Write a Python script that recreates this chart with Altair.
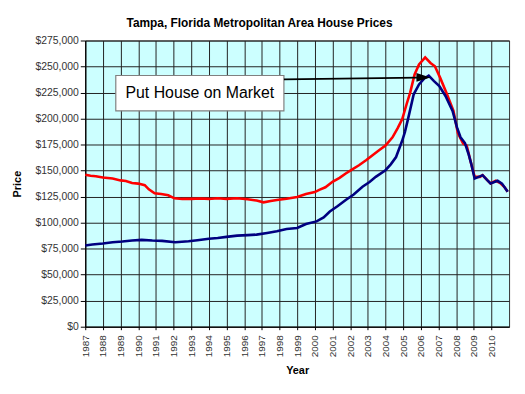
import altair as alt
import pandas as pd

# ---- data ----
red_years = [1987.0, 1987.3, 1987.6, 1988.0, 1988.55, 1989.0, 1989.3, 1989.65, 1990.0, 1990.37,
             1990.6, 1990.93, 1991.3, 1991.7, 1992.05, 1992.5, 1993.0, 1993.5, 1994.0, 1994.5,
             1995.0, 1995.6, 1996.2, 1996.7, 1997.1, 1997.5, 1997.85, 1998.4, 1999.0, 1999.5,
             2000.0, 2000.25, 2000.6, 2001.0, 2001.4, 2001.75, 2002.1, 2002.5, 2002.9, 2003.25,
             2003.6, 2004.0, 2004.4, 2004.7, 2004.95, 2005.2, 2005.4, 2005.65, 2005.9, 2006.25,
             2006.55, 2006.8, 2007.1, 2007.45, 2007.85, 2008.1, 2008.4, 2008.6, 2008.85, 2009.05,
             2009.35, 2009.5, 2009.75, 2009.95, 2010.25, 2010.5, 2010.75, 2010.92]
red_prices = [146000, 145000, 144600, 143400, 142400, 140600, 140000, 138000, 137500, 136000,
              132000, 128200, 127500, 126300, 123400, 122800, 122800, 123200, 122800, 123400,
              122800, 123400, 122500, 121200, 119500, 120800, 121800, 123000, 124600, 127500,
              129400, 131500, 134000, 139200, 143000, 147200, 151000, 155100, 160000, 164600,
              169000, 174100, 182000, 191000, 199500, 214000, 225000, 242400, 252000, 258800,
              253400, 250300, 239100, 224900, 207400, 186000, 176000, 174000, 157000, 144000,
              144000, 145600, 141000, 137700, 140200, 138000, 134000, 129700]

blue_years = [1987.0, 1987.4, 1988.0, 1988.55, 1989.1, 1989.65, 1990.2, 1990.8, 1991.35, 1992.1,
              1992.85, 1993.35, 1994.0, 1994.5, 1995.0, 1995.6, 1996.2, 1996.7, 1997.3, 1997.85,
              1998.4, 1999.0, 1999.5, 2000.1, 2000.5, 2000.85, 2001.3, 2001.75, 2002.2, 2002.7,
              2003.1, 2003.45, 2004.0, 2004.3, 2004.6, 2004.95, 2005.1, 2005.3, 2005.6, 2005.9,
              2006.2, 2006.45, 2006.75, 2007.05, 2007.4, 2007.8, 2008.05, 2008.25, 2008.5, 2008.7,
              2008.85, 2009.05, 2009.35, 2009.5, 2009.75, 2009.95, 2010.35, 2010.6, 2010.92]
blue_prices = [78000, 79000, 80000, 81200, 81800, 82800, 83400, 82800, 82500, 81200,
               82100, 83100, 84500, 85300, 86300, 87500, 88000, 88500, 90100, 91700,
               93900, 94900, 98700, 101200, 105000, 110700, 116000, 121800, 127000, 134500,
               139000, 144000, 150400, 156000, 163000, 178900, 187000, 201100, 223300, 232800,
               238500, 241200, 236000, 231200, 221700, 207400, 191500, 182000, 176500, 166200,
               157000, 142400, 144500, 145600, 141000, 137700, 140200, 137500, 129700]

year_ticks = list(range(1987, 2011))
price_ticks = list(range(0, 275001, 25000))

note_text = ["Put House on Market"]
note_box_x = [1988.73]
note_box_x2 = [1998.25]
note_box_y = [207400]
note_box_y2 = [241400]
note_text_x = [1993.49]
note_text_y = [224400]
arrow_x = [1998.25, 2005.85]
arrow_y = [237600, 239300]
arrow_head_x = [2006.15]
arrow_head_y = [239500]

# ---- tables (same field names everywhere so the layers share one axis) ----
red_df = pd.DataFrame({"Year": red_years, "Price": red_prices})
blue_df = pd.DataFrame({"Year": blue_years, "Price": blue_prices})
box_df = pd.DataFrame({"Year": note_box_x, "Year2": note_box_x2,
                       "Price": note_box_y, "Price2": note_box_y2})
text_df = pd.DataFrame({"Year": note_text_x, "Price": note_text_y, "t": note_text})
arrow_df = pd.DataFrame({"Year": arrow_x, "Price": arrow_y})
head_df = pd.DataFrame({"Year": arrow_head_x, "Price": arrow_head_y})

xscale = alt.Scale(domain=[1987, 2011], nice=False, zero=False)
yscale = alt.Scale(domain=[0, 275000], nice=False)

xaxis = alt.Axis(values=year_ticks, format="d", labelAngle=-90, title="Year",
                 grid=True, tickSize=3, labelPadding=5, labelOverlap=False,
                 titleX=214, titleY=44, titleBaseline="middle")
yaxis = alt.Axis(values=price_ticks, format="$,.0f", title="Price", grid=True,
                 tickSize=5, labelPadding=2, labelOverlap=False,
                 titleX=-68, titleY=144.5, titleBaseline="middle")

X = alt.X("Year:Q", scale=xscale, axis=xaxis)
Y = alt.Y("Price:Q", scale=yscale, axis=yaxis)

red = alt.Chart(red_df).mark_line(color="#FF0000", strokeWidth=2.6).encode(x=X, y=Y)
blue = alt.Chart(blue_df).mark_line(color="#000080", strokeWidth=2.6).encode(x=X, y=Y)

box = alt.Chart(box_df).mark_rect(fill="white", stroke="#808080", strokeWidth=1.2).encode(
    x=X, x2="Year2:Q", y=Y, y2="Price2:Q")
note = alt.Chart(text_df).mark_text(font="Liberation Sans", fontSize=16, color="black").encode(
    x=X, y=Y, text="t:N")
arrow = alt.Chart(arrow_df).mark_line(color="black", strokeWidth=1.8).encode(x=X, y=Y)
head = alt.Chart(head_df).mark_point(shape="M-1,-0.62L1,0L-1,0.62Z", size=200, filled=True,
                                     color="black", opacity=1).encode(x=X, y=Y)

chart = alt.layer(red, blue, box, note, arrow, head).properties(
    width=428, height=289,
    autosize=alt.AutoSizeParams(type="none"),
    padding={"left": 78, "top": 31, "right": 8, "bottom": 54},
    title=alt.TitleParams("Tampa, Florida Metropolitan Area House Prices",
                          font="Liberation Sans", fontSize=12, fontWeight="bold",
                          color="black", anchor="middle", dx=-38, dy=16, offset=10,
                          baseline="bottom"),
    background="white",
).configure_view(
    fill="#CCFFFF", stroke="#333333", strokeWidth=1
).configure_axis(
    labelFont="Liberation Sans", labelFontSize=10.5, labelColor="#333333",
    titleFont="Liberation Sans", titleFontSize=11, titleFontWeight="bold", titleColor="black",
    gridColor="#222222", gridOpacity=1, gridWidth=1,
    domainColor="black", tickColor="black", domainWidth=1
).configure_axisX(labelFontSize=10)

chart.save("out.html", embed_options={"renderer": "svg", "actions": False})
